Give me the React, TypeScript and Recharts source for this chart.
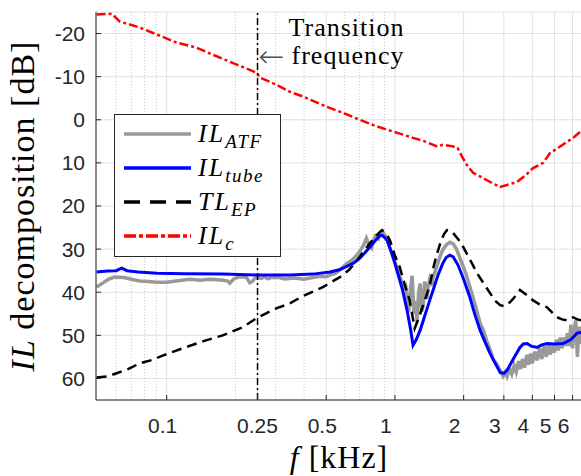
import React from 'react';
import {
  LineChart,
  Line,
  XAxis,
  YAxis,
  CartesianGrid,
  ReferenceLine,
  Legend,
} from 'recharts';

// axis ticks and grid
const xTicks = [0.1, 0.25, 0.5, 1, 2, 3, 4, 5, 6];
const xMinorGrid = [0.06, 0.07, 0.08, 0.09, 0.2, 0.3, 0.4, 0.6, 0.7, 0.8, 0.9];
const yTicks = [-20, -10, 0, 10, 20, 30, 40, 50, 60];
const transitionFreq = 0.25;

// IL_ATF (measured, noisy)
const ilAtfFreq = [
  0.0493, 0.052, 0.0555, 0.0591, 0.065, 0.07, 0.0761, 0.083, 0.09, 0.1, 0.11, 0.126, 0.14, 0.155,
  0.176, 0.185, 0.189, 0.196, 0.203, 0.21, 0.218, 0.224, 0.231, 0.237, 0.243, 0.25, 0.26, 0.268,
  0.277, 0.29, 0.31, 0.33, 0.36, 0.4, 0.437, 0.47, 0.5, 0.52, 0.55, 0.58, 0.616, 0.65, 0.68, 0.7,
  0.73, 0.75, 0.77, 0.79, 0.8, 0.82, 0.845, 0.86, 0.88, 0.9, 0.93, 0.96, 1.0, 1.03, 1.07, 1.09,
  1.11, 1.13, 1.15, 1.17, 1.19, 1.21, 1.23, 1.25, 1.27, 1.29, 1.31, 1.33, 1.35, 1.38, 1.4, 1.42,
  1.45, 1.47, 1.53, 1.58, 1.62, 1.68, 1.74, 1.8, 1.86, 1.94, 2.04, 2.13, 2.25, 2.36, 2.45, 2.53,
  2.6, 2.69, 2.78, 2.89, 2.98, 3.05, 3.1, 3.18, 3.25, 3.33, 3.4, 3.48, 3.55, 3.62, 3.7, 3.78,
  3.85, 3.93, 4.0, 4.1, 4.2, 4.3, 4.4, 4.5, 4.6, 4.7, 4.8, 4.9, 5.0, 5.1, 5.2, 5.3, 5.4, 5.5, 5.6,
  5.7, 5.8, 5.9, 6.0, 6.1, 6.2, 6.3, 6.4, 6.5, 6.6,
];
const ilAtfDb = [
  38.8, 38.0, 37.0, 36.5, 36.6, 37.0, 37.4, 37.5, 37.7, 37.7, 37.4, 37.0, 37.2, 37.0,
  37.2, 37.4, 37.9, 37.0, 36.6, 36.4, 36.5, 36.6, 37.8, 37.5, 36.8, 36.6, 36.8, 36.4,
  36.9, 36.5, 36.6, 36.9, 36.7, 37.0, 36.6, 36.3, 36.4, 36.0, 35.6, 34.6, 33.3, 32.5, 31.4, 30.6,
  29.0, 27.5, 29.2, 29.8, 28.5, 27.0, 27.6, 26.3, 26.0, 26.6, 28.0, 30.5, 33.0, 35.0, 37.5, 39.5,
  37.8, 41.5, 44.5, 39.0, 36.2, 45.0, 42.0, 47.0, 40.0, 38.0, 44.5, 43.0, 37.5, 41.5, 38.5, 37.0,
  38.5, 36.5, 33.8, 31.5, 30.2, 29.0, 28.4, 28.8, 30.0, 32.5, 35.5, 38.8, 43.0, 47.2, 49.0, 51.5,
  53.0, 55.5, 56.5, 58.2, 59.5, 58.5, 59.5, 57.8, 59.0, 57.0, 58.5, 56.0, 57.8, 55.5, 57.5, 54.5,
  56.8, 54.2, 56.5, 53.8, 55.8, 53.0, 55.5, 52.5, 55.0, 52.0, 54.5, 51.8, 54.0, 51.0, 53.5, 50.5,
  53.0, 50.5, 52.5, 49.5, 52.5, 47.5, 53.0, 48.5, 46.5, 55.0, 48.0, 52.0, 48.0,
];

// IL_tube (model)
const ilTubeFreq = [
  0.0493, 0.055, 0.06, 0.0635, 0.067, 0.075, 0.0904, 0.12, 0.176, 0.25, 0.346, 0.437, 0.519, 0.57,
  0.616, 0.66, 0.702, 0.74, 0.777, 0.82, 0.86, 0.88, 0.9, 0.922, 0.97, 1.02, 1.08, 1.13, 1.17,
  1.2, 1.24, 1.29, 1.35, 1.42, 1.47, 1.55, 1.62, 1.68, 1.74, 1.8, 1.89, 2.0, 2.13, 2.24, 2.36,
  2.48, 2.61, 2.75, 2.89, 3.0, 3.1, 3.3, 3.53, 3.65, 3.79, 3.95, 4.2, 4.4, 4.64, 5.0, 5.46, 5.9,
  6.28, 6.6,
];
const ilTubeDb = [
  35.3, 35.1, 35.0, 34.4, 35.0, 35.3, 35.6, 35.7, 35.8, 36.0, 36.0, 35.8, 35.3, 34.8,
  34.0, 33.2, 32.1, 30.8, 29.5, 28.0, 26.9, 26.8, 27.3, 27.9, 31.0, 34.9, 39.5, 44.2, 48.5,
  52.3, 51.0, 48.8, 45.5, 41.9, 39.5, 35.8, 33.3, 31.9, 31.4, 31.8, 33.7, 37.0, 41.2, 45.2, 48.8,
  51.5, 54.2, 56.5, 58.6, 58.8, 58.1, 55.5, 52.8, 52.0, 51.9, 52.5, 52.8, 52.2, 51.9, 52.0, 51.9, 51.0,
  49.5, 49.3,
];

// TL_EP
const tlEpFreq = [
  0.0493, 0.055, 0.0603, 0.068, 0.0761, 0.085, 0.096, 0.1175, 0.1438, 0.1761, 0.2154, 0.2481, 0.27,
  0.3038, 0.3463, 0.395, 0.4833, 0.5739, 0.63, 0.6813, 0.73, 0.7771, 0.83, 0.877, 0.91, 0.95, 1.0,
  1.05, 1.1, 1.16, 1.22, 1.26, 1.29, 1.33, 1.42, 1.47, 1.52, 1.58, 1.64, 1.69, 1.75, 1.8, 1.9,
  1.99, 2.15, 2.29, 2.45, 2.61, 2.75, 2.89, 3.0, 3.1, 3.3, 3.53, 3.75, 4.03, 4.3, 4.64, 4.9, 5.13,
  5.4, 5.68, 5.85, 6.03, 6.3, 6.6,
];
const tlEpDb = [
  59.8, 59.5, 58.8, 57.8, 56.5, 55.8, 54.7, 53.0, 51.4, 50.0, 48.1, 46.0, 45.0,
  43.7, 42.6, 40.9, 38.8, 36.5, 34.8, 32.6, 30.5, 28.6, 26.8, 25.6, 26.2, 27.9, 31.5,
  34.2, 38.0, 41.9, 48.4, 46.5, 45.0, 43.0, 38.5, 34.5, 31.5, 28.6, 26.5, 25.6, 25.7, 26.3, 27.8,
  29.5, 32.8, 35.6, 38.0, 40.2, 42.0, 43.0, 43.2, 43.0, 41.5, 39.5, 40.5, 41.9, 42.8, 43.5, 44.8, 45.8,
  46.3, 46.5, 46.0, 45.8, 46.3, 46.6,
];

// IL_c
const ilCFreq = [
  0.0493, 0.0574, 0.0622, 0.0761, 0.0904, 0.1106, 0.1354, 0.159, 0.2028, 0.2481, 0.2558, 0.3038,
  0.3463, 0.395, 0.503, 0.6, 0.7, 0.8, 0.92, 1.05, 1.2, 1.35, 1.53, 1.62, 1.72, 1.8, 1.88, 1.97,
  2.09, 2.2, 2.43, 2.65, 2.89, 3.15, 3.43, 3.75, 4.03, 4.46, 4.78, 5.2, 5.68, 6.1, 6.48, 6.6,
];
const ilCDb = [
  -24.4, -24.6, -22.8, -21.4, -19.8, -17.9, -16.7, -15.1, -12.8, -10.9, -9.8, -8.1,
  -6.5, -5.4, -3.0, -1.5, 0.0, 1.2, 2.3, 3.2, 4.2, 5.0, 6.2, 5.8, 6.0, 6.2, 6.5, 8.6,
  10.9, 12.3, 13.5, 14.6, 15.6, 15.0, 14.4, 12.8, 11.2, 10.0, 7.7, 6.5, 5.1, 4.0, 2.8, 2.4,
];

const legendNames = [
  { key: 'atf', main: 'IL', sub: 'ATF' },
  { key: 'tube', main: 'IL', sub: 'tube' },
  { key: 'ep', main: 'TL', sub: 'EP' },
  { key: 'c', main: 'IL', sub: 'c' },
];

const toPoints = (f: number[], v: number[]) => f.map((x, i) => ({ f: x, db: v[i] }));

const atfData = toPoints(ilAtfFreq, ilAtfDb);
const tubeData = toPoints(ilTubeFreq, ilTubeDb);
const epData = toPoints(tlEpFreq, tlEpDb);
const cData = toPoints(ilCFreq, ilCDb);

const SERIF = "'Liberation Serif', 'Times New Roman', serif";
const SANS = "'Liberation Sans', Arial, sans-serif";
const AXIS = '#262626';

const sampleStyle: Record<string, { stroke: string; dash?: string }> = {
  atf: { stroke: '#999999' },
  tube: { stroke: '#0000ff' },
  ep: { stroke: '#000000', dash: '16 10' },
  c: { stroke: '#ff0000', dash: '12 3 4 3' },
};

const LegendBox = () => (
  <div
    style={{
      width: 165,
      border: `1px solid ${AXIS}`,
      background: '#fff',
      padding: '2px 0 3px 0',
    }}
  >
    {legendNames.map((item) => (
      <div key={item.key} style={{ display: 'flex', alignItems: 'center', height: 34 }}>
        <svg width={76} height={10} style={{ display: 'block' }}>
          <line
            x1={9}
            x2={76}
            y1={5}
            y2={5}
            stroke={sampleStyle[item.key].stroke}
            strokeWidth={3.5}
            strokeDasharray={sampleStyle[item.key].dash}
          />
        </svg>
        <span
          style={{
            marginLeft: 7,
            fontFamily: SERIF,
            fontStyle: 'italic',
            fontSize: 26,
            lineHeight: 1,
            letterSpacing: 2,
            color: '#000',
            whiteSpace: 'nowrap',
          }}
        >
          {item.main}
          <span style={{ fontSize: 19, position: 'relative', top: 6, letterSpacing: 1.5 }}>
            {item.sub}
          </span>
        </span>
      </div>
    ))}
  </div>
);

const XTick = (props: any) => {
  const { x, y, payload } = props;
  const v = payload.value;
  const dx = v === 0.25 ? 0 : v < 1 ? -4 : -9;
  return (
    <text x={x + dx} y={y + 15} textAnchor="middle" fontFamily={SANS} fontSize={21} fill={AXIS}>
      {String(v)}
    </text>
  );
};

const XTitle = (props: any) => {
  const vb = props.viewBox ?? { x: 96, y: 400, width: 486, height: 76 };
  return (
    <text
      x={vb.x + vb.width / 2}
      y={vb.y + 68}
      textAnchor="middle"
      fontFamily={SERIF}
      fontSize={32}
      fill="#000"
      style={{ letterSpacing: 1 }}
    >
      <tspan fontStyle="italic">f</tspan> [kHz]
    </text>
  );
};

const YTitle = (props: any) => {
  const vb = props.viewBox ?? { x: 0, y: 12, width: 96, height: 388 };
  const cx = vb.x + 34;
  const cy = vb.y + vb.height / 2;
  return (
    <text
      transform={`translate(${cx},${cy}) rotate(-90)`}
      textAnchor="middle"
      fontFamily={SERIF}
      fontSize={34}
      fill="#000"
      style={{ letterSpacing: 1 }}
    >
      <tspan fontStyle="italic">IL</tspan> decomposition [dB]
    </text>
  );
};

const TransitionNote = (props: any) => {
  const vb = props.viewBox ?? { x: 257, y: 12 };
  return (
    <g fontFamily={SERIF} fontSize={26} fill="#000">
      <text x={vb.x + 31} y={vb.y + 24} style={{ letterSpacing: 1 }}>
        Transition
      </text>
      <text
        x={vb.x + 1}
        y={vb.y + 55}
        fill="#4d4d4d"
        fontFamily="'DejaVu Sans', sans-serif"
        fontSize={31}
        fontWeight={200}
      >
        ←
      </text>
      <text x={vb.x + 34} y={vb.y + 52} style={{ letterSpacing: 1 }}>
        frequency
      </text>
    </g>
  );
};

const App: React.FC = () => {
  return (
    <div
      style={{
        position: 'absolute',
        left: 0,
        top: 0,
        width: 581,
        height: 476,
        overflow: 'hidden',
        background: '#fff',
      }}
    >
      <LineChart width={582} height={476} margin={{ top: 12, right: 0, bottom: 0, left: 0 }}>
        <CartesianGrid stroke="#e1e1e1" />
        <XAxis
          dataKey="f"
          type="number"
          scale="log"
          domain={[0.049, 6.6]}
          allowDataOverflow
          ticks={xTicks}
          interval={0}
          height={76}
          tickSize={-5}
          tickMargin={23}
          tick={<XTick />}
          stroke={AXIS}
          label={XTitle}
        />
        <XAxis
          xAxisId="top"
          orientation="top"
          type="number"
          scale="log"
          domain={[0.049, 6.6]}
          allowDataOverflow
          ticks={xTicks}
          interval={0}
          height={0}
          tickSize={-5}
          tick={false}
          stroke={AXIS}
        />
        <YAxis
          type="number"
          domain={[-25, 65]}
          reversed
          allowDataOverflow
          ticks={yTicks}
          interval={0}
          width={96}
          tickSize={-5}
          tickMargin={16}
          tick={{ fontFamily: SANS, fontSize: 21, fill: AXIS }}
          stroke={AXIS}
          label={YTitle}
        />
        <YAxis
          yAxisId="right"
          orientation="right"
          type="number"
          domain={[-25, 65]}
          reversed
          allowDataOverflow
          ticks={yTicks}
          interval={0}
          width={0}
          tickSize={-5}
          tick={false}
          stroke={AXIS}
        />
        {xMinorGrid.map((f) => (
          <ReferenceLine key={f} x={f} stroke="#c4c4c4" strokeDasharray="1 2" />
        ))}
        <Line
          data={atfData}
          dataKey="db"
          stroke="#999999"
          strokeWidth={3.5}
          dot={false}
          isAnimationActive={false}
        />
        <Line
          data={tubeData}
          dataKey="db"
          stroke="#0000ff"
          strokeWidth={3}
          dot={false}
          isAnimationActive={false}
        />
        <Line
          data={epData}
          dataKey="db"
          stroke="#000000"
          strokeWidth={2.5}
          strokeDasharray="10 6"
          dot={false}
          isAnimationActive={false}
        />
        <Line
          data={cData}
          dataKey="db"
          stroke="#ff0000"
          strokeWidth={2.5}
          strokeDasharray="9 3 3 3"
          dot={false}
          isAnimationActive={false}
        />
        <ReferenceLine
          x={transitionFreq}
          stroke="#000"
          strokeWidth={1.5}
          strokeDasharray="7 3 2 3"
          label={TransitionNote}
        />
        <Legend
          layout="vertical"
          align="center"
          verticalAlign="middle"
          content={<LegendBox />}
          wrapperStyle={{ left: 114, top: 114, width: 167 }}
        />
      </LineChart>
    </div>
  );
};

export default App;
